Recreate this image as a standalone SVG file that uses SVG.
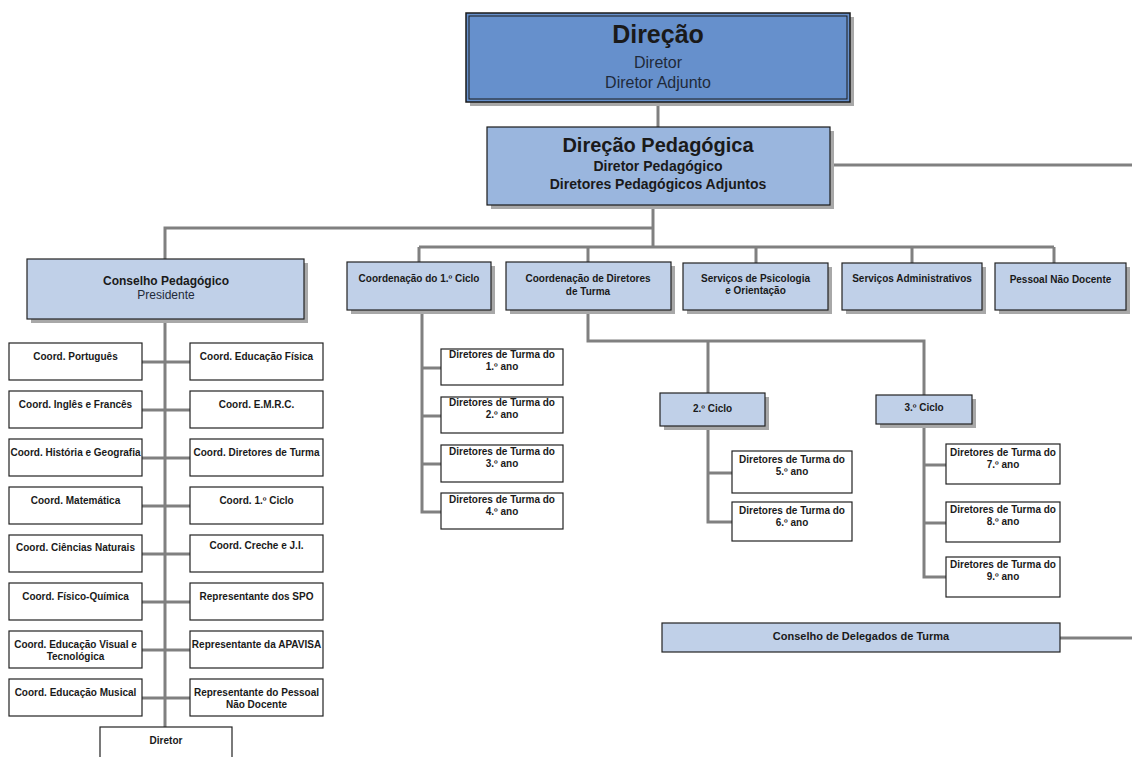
<svg xmlns="http://www.w3.org/2000/svg" width="1132" height="757" viewBox="0 0 1132 757">
<style>
.c{stroke:#808080;stroke-width:3;fill:none}
.w{fill:#fff;stroke:#222;stroke-width:1.2}
.lb{fill:#c0d0e8;stroke:#222;stroke-width:1.2}
.sh{fill:#a8a8a8}
.t{font-family:"Liberation Sans",Arial,sans-serif;font-size:10px;font-weight:bold;text-anchor:middle;fill:#1a1a1a}
.r{font-weight:normal;fill:#1f2a3a}
</style>
<rect width="1132" height="757" fill="#fff"/>
<g id="connectors">
<path class="c" d="M658 102V127"/>
<path class="c" d="M830 165H1132"/>
<path class="c" d="M653 205V247"/>
<path class="c" d="M653 228H165V259"/>
<path class="c" d="M419 247H1054M419 247V262M588 247V262M756 247V263M912 247V263M1054 247V263"/>
<path class="c" d="M165 319V727"/>
<path class="c" d="M142 362H190M142 410H190M142 458H190M142 506H190M142 554H190M142 602H190M142 650H190M142 698H190"/>
<path class="c" d="M422 310V512H441M422 368H441M422 416H441M422 464H441"/>
<path class="c" d="M588 310V341H924V395M708 341V393"/>
<path class="c" d="M708 426V522H732M708 473H732"/>
<path class="c" d="M924 424V577H946M924 465H946M924 523H946"/>
<path class="c" d="M1060 638H1132"/>
</g>
<g id="direcao">
<rect class="sh" x="470" y="17" width="384" height="89"/>
<rect x="466" y="13" width="384" height="89" fill="#6690cc" stroke="#1a1a1a" stroke-width="1.5"/>
<rect x="469" y="16" width="378" height="83" fill="none" stroke="#1a1a1a" stroke-width="1"/>
<text class="t" x="658" y="43" font-size="25" style="font-size:25px">Direção</text>
<text class="t r" x="658" y="68" style="font-size:16px">Diretor</text>
<text class="t r" x="658" y="88" style="font-size:16px">Diretor Adjunto</text>
</g>
<g id="direcao-pedagogica">
<rect class="sh" x="491" y="131" width="343" height="78"/>
<rect x="487" y="127" width="343" height="78" fill="#9ab6de" stroke="#1a1a1a" stroke-width="1.2"/>
<text class="t" x="658" y="152" style="font-size:20px">Direção Pedagógica</text>
<text class="t" x="658" y="171" style="font-size:14px">Diretor Pedagógico</text>
<text class="t" x="658" y="189" style="font-size:14px">Diretores Pedagógicos Adjuntos</text>
</g>
<g id="conselho-pedagogico">
<rect class="sh" x="31" y="263" width="277" height="60"/>
<rect class="lb" x="27" y="259" width="277" height="60"/>
<text class="t" x="166" y="285" style="font-size:12px">Conselho Pedagógico</text>
<text class="t r" x="166" y="299" style="font-size:12px">Presidente</text>
</g>
<g id="coord-1-ciclo">
<rect class="sh" x="351" y="266" width="144" height="48"/>
<rect class="lb" x="347" y="262" width="144" height="48"/>
<text class="t" x="419" y="282">Coordenação do 1.º Ciclo</text>
</g>
<g id="coord-diretores-turma">
<rect class="sh" x="510" y="266" width="165" height="48"/>
<rect class="lb" x="506" y="262" width="165" height="48"/>
<text class="t" x="588" y="282">Coordenação de Diretores</text>
<text class="t" x="588" y="295">de Turma</text>
</g>
<g id="spo">
<rect class="sh" x="687" y="267" width="145" height="47"/>
<rect class="lb" x="683" y="263" width="145" height="47"/>
<text class="t" x="755.5" y="282">Serviços de Psicologia</text>
<text class="t" x="755.5" y="294">e Orientação</text>
</g>
<g id="servicos-administrativos">
<rect class="sh" x="846" y="267" width="140" height="47"/>
<rect class="lb" x="842" y="263" width="140" height="47"/>
<text class="t" x="912" y="282">Serviços Administrativos</text>
</g>
<g id="pessoal-nao-docente">
<rect class="sh" x="999" y="267" width="131" height="47"/>
<rect class="lb" x="995" y="263" width="131" height="47"/>
<text class="t" x="1060.5" y="283">Pessoal Não Docente</text>
</g>
<g id="cp-members">
<g id="coord-portugues"><rect class="w" x="9" y="343" width="133" height="37"/><text class="t" x="75.5" y="360">Coord. Português</text></g>
<g id="coord-ingles-frances"><rect class="w" x="9" y="391" width="133" height="37"/><text class="t" x="75.5" y="408">Coord. Inglês e Francês</text></g>
<g id="coord-historia-geografia"><rect class="w" x="9" y="439" width="133" height="37"/><text class="t" x="75.5" y="456">Coord. História e Geografia</text></g>
<g id="coord-matematica"><rect class="w" x="9" y="487" width="133" height="37"/><text class="t" x="75.5" y="504">Coord. Matemática</text></g>
<g id="coord-ciencias-naturais"><rect class="w" x="9" y="535" width="133" height="37"/><text class="t" x="75.5" y="551">Coord. Ciências Naturais</text></g>
<g id="coord-fisico-quimica"><rect class="w" x="9" y="583" width="133" height="37"/><text class="t" x="75.5" y="600">Coord. Físico-Química</text></g>
<g id="coord-evt"><rect class="w" x="9" y="631" width="133" height="37"/><text class="t" x="75.5" y="648">Coord. Educação Visual e</text><text class="t" x="75.5" y="660">Tecnológica</text></g>
<g id="coord-educacao-musical"><rect class="w" x="9" y="679" width="133" height="37"/><text class="t" x="75.5" y="696">Coord. Educação Musical</text></g>
<g id="coord-educacao-fisica"><rect class="w" x="190" y="343" width="133" height="37"/><text class="t" x="256.5" y="360">Coord. Educação Física</text></g>
<g id="coord-emrc"><rect class="w" x="190" y="391" width="133" height="37"/><text class="t" x="256.5" y="408">Coord. E.M.R.C.</text></g>
<g id="coord-dt"><rect class="w" x="190" y="439" width="133" height="37"/><text class="t" x="256.5" y="456">Coord. Diretores de Turma</text></g>
<g id="coord-1-ciclo-cp"><rect class="w" x="190" y="487" width="133" height="37"/><text class="t" x="256.5" y="504">Coord. 1.º Ciclo</text></g>
<g id="coord-creche"><rect class="w" x="190" y="535" width="133" height="37"/><text class="t" x="256.5" y="549">Coord. Creche e J.I.</text></g>
<g id="rep-spo"><rect class="w" x="190" y="583" width="133" height="37"/><text class="t" x="256.5" y="600">Representante dos SPO</text></g>
<g id="rep-apavisa"><rect class="w" x="190" y="631" width="133" height="37"/><text class="t" x="256.5" y="648">Representante da APAVISA</text></g>
<g id="rep-pnd"><rect class="w" x="190" y="679" width="133" height="37"/><text class="t" x="256.5" y="696">Representante do Pessoal</text><text class="t" x="256.5" y="708">Não Docente</text></g>
<g id="diretor"><rect class="w" x="100" y="727" width="132" height="40"/><text class="t" x="166" y="744">Diretor</text></g>
</g>
<g id="dt-1-ciclo">
<g id="dt1"><rect class="w" x="441" y="349" width="122" height="36"/><text class="t" x="502" y="358">Diretores de Turma do</text><text class="t" x="502" y="370">1.º ano</text></g>
<g id="dt2"><rect class="w" x="441" y="397" width="122" height="36"/><text class="t" x="502" y="406">Diretores de Turma do</text><text class="t" x="502" y="418">2.º ano</text></g>
<g id="dt3"><rect class="w" x="441" y="445" width="122" height="37"/><text class="t" x="502" y="455">Diretores de Turma do</text><text class="t" x="502" y="467">3.º ano</text></g>
<g id="dt4"><rect class="w" x="441" y="493" width="122" height="36"/><text class="t" x="502" y="503">Diretores de Turma do</text><text class="t" x="502" y="515">4.º ano</text></g>
</g>
<g id="ciclo-2">
<rect class="sh" x="664" y="397" width="105" height="33"/>
<rect class="lb" x="660" y="393" width="105" height="33"/>
<text class="t" x="712.5" y="412">2.º Ciclo</text>
</g>
<g id="dt-2-ciclo">
<g id="dt5"><rect class="w" x="732" y="451" width="120" height="42"/><text class="t" x="792" y="463">Diretores de Turma do</text><text class="t" x="792" y="475">5.º ano</text></g>
<g id="dt6"><rect class="w" x="732" y="502" width="120" height="39"/><text class="t" x="792" y="514">Diretores de Turma do</text><text class="t" x="792" y="526">6.º ano</text></g>
</g>
<g id="ciclo-3">
<rect class="sh" x="880" y="399" width="96" height="29"/>
<rect class="lb" x="876" y="395" width="96" height="29"/>
<text class="t" x="924" y="411">3.º Ciclo</text>
</g>
<g id="dt-3-ciclo">
<g id="dt7"><rect class="w" x="946" y="444" width="114" height="40"/><text class="t" x="1003" y="456">Diretores de Turma do</text><text class="t" x="1003" y="468">7.º ano</text></g>
<g id="dt8"><rect class="w" x="946" y="502" width="114" height="40"/><text class="t" x="1003" y="513">Diretores de Turma do</text><text class="t" x="1003" y="525">8.º ano</text></g>
<g id="dt9"><rect class="w" x="946" y="557" width="114" height="40"/><text class="t" x="1003" y="568">Diretores de Turma do</text><text class="t" x="1003" y="580">9.º ano</text></g>
</g>
<g id="conselho-delegados">
<rect class="lb" x="662" y="623" width="398" height="29"/>
<text class="t" x="861" y="640" style="font-size:11px">Conselho de Delegados de Turma</text>
</g>
</svg>
